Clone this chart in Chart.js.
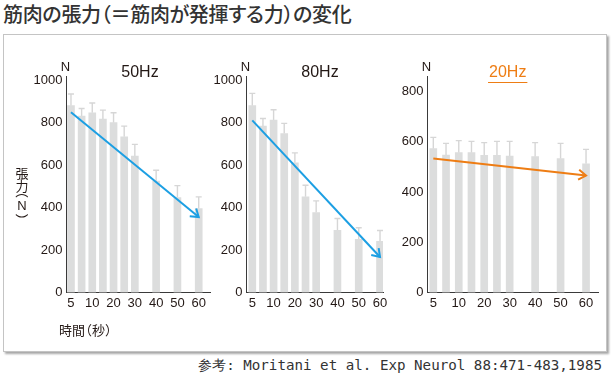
<!DOCTYPE html>
<html><head><meta charset="utf-8">
<script src="https://cdn.jsdelivr.net/npm/chart.js@4.4.1/dist/chart.umd.min.js"></script>
<style>
html,body{margin:0;padding:0;background:#fff;width:613px;height:380px;overflow:hidden;}
#title{position:absolute;left:3px;top:0px;font-family:"Noto Sans CJK JP";font-size:20px;letter-spacing:-0.3px;font-weight:500;color:#333;font-feature-settings:"palt";white-space:nowrap;line-height:28px;}
#frame{position:absolute;left:3px;top:34px;width:604px;height:318px;box-sizing:border-box;border:1px solid #c4c4c4;box-shadow:2px 2px 2px rgba(0,0,0,0.35);background:#fff;}
#src{position:absolute;right:11px;top:357px;font-family:"DejaVu Sans Mono";font-size:14.2px;line-height:16px;color:#333;white-space:nowrap;}
canvas{position:absolute;}
</style></head><body>
<div id="title">筋肉の張力（＝筋肉が発揮する力）の変化</div>
<div id="frame"></div>
<canvas id="c1" width="215" height="310" style="left:5px;top:40px"></canvas>
<canvas id="c2" width="210" height="310" style="left:185px;top:40px"></canvas>
<canvas id="c3" width="242" height="310" style="left:366px;top:40px"></canvas>
<div id="src">参考: Moritani et al. Exp Neurol 88:471-483,1985</div>
<script>
// ---- data ----
const slotLabels = ['5','','10','','20','','30','','40','','50','','60'];
const mean50 = [879,830,846,816,799,733,642,null,524,null,447,null,395];
const sd50   = [55,36,46,42,47,50,55,null,51,null,56,null,55];
const trend50 = [848,355];
const mean80 = [879,783,811,748,610,450,376,null,292,null,250,null,241];
const sd80   = [58,36,49,48,47,55,55,null,56,null,55,null,51];
const trend80 = [810,167];
const mean20 = [573,547,557,557,546,546,543,null,541,null,533,null,513];
const sd20   = [45,47,48,45,51,56,59,null,56,null,61,null,57];
const trend20 = [534,466];
const yTicksA = [0,200,400,600,800,1000];
const yTicksB = [0,200,400,600,800];
const panelTitles = ['50Hz','80Hz','20Hz'];
const yAxisTitle = '張力（N）';
const xAxisTitle = '時間（秒）';
const unitLabel = 'N';

const NUMFONT = '"Liberation Sans", Arial, sans-serif';
const JPFONT = '"Noto Sans CJK JP", sans-serif';
const TXT = '#231815';

const deco = {
  id: 'deco',
  beforeDatasetsDraw(chart) {
    const ds = chart.data.datasets[1];
    const meta = chart.getDatasetMeta(1);
    const ys = chart.scales.y;
    const ctx = chart.ctx;
    ctx.save();
    ctx.strokeStyle = '#d6d6d6';
    ctx.lineWidth = 1.4;
    meta.data.forEach((el, i) => {
      const r = ds.data[i];
      const yTop = ys.getPixelForValue(r.y + r.sd);
      ctx.beginPath();
      ctx.moveTo(el.x, el.y);
      ctx.lineTo(el.x, yTop);
      ctx.moveTo(el.x - 3, yTop);
      ctx.lineTo(el.x + 3, yTop);
      ctx.stroke();
    });
    ctx.restore();
  },
  afterDatasetsDraw(chart) {
    const meta = chart.getDatasetMeta(0);
    const p0 = meta.data[0], p1 = meta.data[meta.data.length - 1];
    const ang = Math.atan2(p1.y - p0.y, p1.x - p0.x);
    const ctx = chart.ctx;
    const col = chart.data.datasets[0].borderColor;
    ctx.save();
    ctx.strokeStyle = col;
    ctx.lineWidth = 2;
    ctx.beginPath();
    const L = 9;
    ctx.moveTo(p1.x + L * Math.cos(ang + Math.PI - 0.6), p1.y + L * Math.sin(ang + Math.PI - 0.6));
    ctx.lineTo(p1.x, p1.y);
    ctx.lineTo(p1.x + L * Math.cos(ang + Math.PI + 0.6), p1.y + L * Math.sin(ang + Math.PI + 0.6));
    ctx.stroke();
    ctx.restore();
  },
  afterDraw(chart, args, o) {
    const ctx = chart.ctx;
    const a = chart.chartArea;
    ctx.save();
    ctx.textBaseline = 'middle';
    ctx.textAlign = 'center';
    ctx.fillStyle = TXT;
    ctx.font = '13px ' + NUMFONT;
    ctx.fillText(unitLabel, a.left - 1, 27);
    ctx.font = '16px ' + NUMFONT;
    ctx.fillStyle = o.titleColor;
    ctx.fillText(o.title, o.titleX, 33);
    if (o.underline) {
      const w = ctx.measureText(o.title).width;
      ctx.strokeStyle = o.titleColor;
      ctx.lineWidth = 1;
      ctx.beginPath();
      ctx.moveTo(o.titleX - w / 2 - 1, 42.5);
      ctx.lineTo(o.titleX + w / 2 + 1, 42.5);
      ctx.stroke();
    }
    if (o.axisTitles) {
      ctx.fillStyle = TXT;
      const vx = 17;
      const chars = Array.from(yAxisTitle);
      const ypos = [133.5, 146, 155.5, 166, 176.5];
      chars.forEach((c, i) => {
        const rot = (c === '（' || c === '）');
        ctx.save();
        ctx.translate(vx, ypos[i]);
        if (rot) ctx.rotate(Math.PI / 2);
        ctx.font = (c === 'N' ? '13px ' + NUMFONT : '13px ' + JPFONT);
        let off = 0;
        if (c === '（') off = -4; if (c === '）') off = 3.5;
        ctx.fillText(c, off, 0);
        ctx.restore();
      });
      ctx.font = '13px ' + JPFONT;
      const xc = Array.from(xAxisTitle);
      const adv = xc.map(c => (c === '（' || c === '）') ? 7 : 13);
      let x = 54;
      xc.forEach((c, i) => {
        let dx = 0;
        if (c === '（') dx = -3; if (c === '）') dx = 3;
        ctx.fillText(c, x + adv[i] / 2 + dx, 290);
        x += adv[i];
      });
    }
    ctx.restore();
  }
};

function makePanel(id, means, sds, trend, yTicks, yMax, xMin, xMax, padTop, padRight, arrowColor, opts) {
  const canvas = document.getElementById(id);
  const bars = means.map((v, i) => v == null ? null : { x: i, y: v, sd: sds[i] }).filter(Boolean);
  const line = [{ x: 0, y: trend[0] }, { x: slotLabels.length - 1, y: trend[1] }];
  new Chart(canvas, {
    type: 'bar',
    data: {
      datasets: [
        { type: 'line', data: line, borderColor: arrowColor, borderWidth: 2, pointRadius: 0, fill: false, order: 0 },
        { type: 'bar', data: bars, backgroundColor: '#dcdddd', barThickness: 7, order: 1 }
      ]
    },
    options: {
      responsive: false, animation: false, events: [],
      layout: { padding: { top: padTop, right: padRight, left: 0, bottom: 0 } },
      plugins: { legend: { display: false }, tooltip: { enabled: false }, deco: opts },
      scales: {
        x: {
          type: 'linear', min: xMin, max: xMax, offset: false,
          grid: { display: false, offset: false, drawTicks: false },
          border: { display: true, color: '#3a3a3a', width: 1 },
          afterFit: s => { s.height = 57.5; },
          afterBuildTicks: s => { s.ticks = slotLabels.map((l, i) => l ? { value: i } : null).filter(Boolean); },
          ticks: { autoSkip: false, maxRotation: 0, padding: 3, color: TXT, font: { family: NUMFONT, size: 13 },
                   callback: v => slotLabels[v] }
        },
        y: {
          min: 0, max: yMax,
          grid: { display: false, drawTicks: false },
          border: { display: true, color: '#3a3a3a', width: 1 },
          afterFit: s => { s.width = 61.5; },
          afterBuildTicks: s => { s.ticks = yTicks.map(v => ({ value: v })); },
          ticks: { padding: 4, color: TXT, font: { family: NUMFONT, size: 13 }, callback: v => String(v) }
        }
      }
    },
    plugins: [deco]
  });
}

makePanel('c1', mean50, sd50, trend50, yTicksA, 1015, -0.42, 13.06, 36.8, 10, '#1c9fe3',
  { title: panelTitles[0], titleX: 135, titleColor: TXT, axisTitles: true });
makePanel('c2', mean80, sd80, trend80, yTicksA, 1015, -0.545, 12.28, 36.8, 12, '#1c9fe3',
  { title: panelTitles[1], titleX: 135, titleColor: TXT });
makePanel('c3', mean20, sd20, trend20, yTicksB, 860, -0.456, 12.94, 36.6, 10, '#ee7d14',
  { title: panelTitles[2], titleX: 141.7, titleColor: '#ee7d14', underline: true });
</script>
</body></html>
